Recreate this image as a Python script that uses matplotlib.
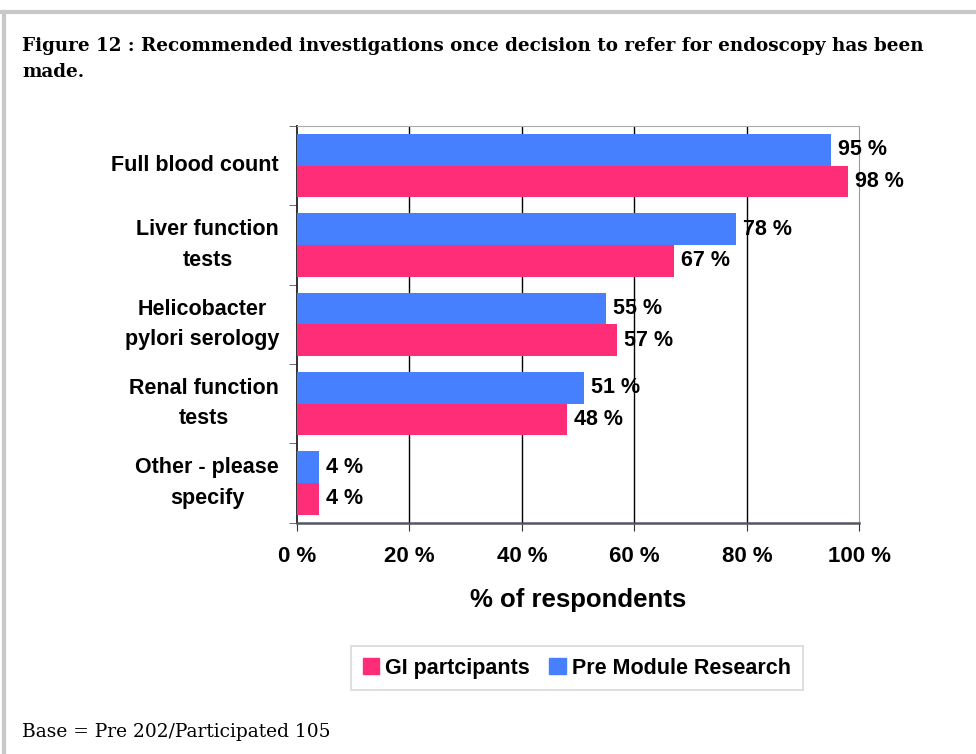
import matplotlib
matplotlib.use('Agg')
from matplotlib import pyplot as plt
from matplotlib.lines import Line2D
from matplotlib.patches import Patch
import numpy as np

categories = ['Full blood count', 'Liver function\ntests', 'Helicobacter\npylori serology',
              'Renal function\ntests', 'Other - please\nspecify']
pre_module = [95, 78, 55, 51, 4]
gi_participants = [98, 67, 57, 48, 4]
xticks = [0, 20, 40, 60, 80, 100]

BLUE = '#4680FF'
PINK = '#FF2D78'
SANS = 'Liberation Sans'

fig = plt.figure(figsize=(9.76, 7.54), dpi=100)
ax = fig.add_axes([0.3043, 0.3068, 0.5761, 0.5261])

y = np.arange(len(categories))
h = 0.4
ax.barh(y - h / 2, pre_module, height=h, color=BLUE, label='Pre Module Research', zorder=3)
ax.barh(y + h / 2, gi_participants, height=h, color=PINK, label='GI partcipants', zorder=3)

for yi, v in zip(y - h / 2, pre_module):
    ax.annotate('%d %%' % v, (v, yi), xytext=(5, 0), textcoords='offset points',
                va='center', ha='left', fontsize=15.5, fontweight='bold',
                family=SANS, zorder=4)
for yi, v in zip(y + h / 2, gi_participants):
    ax.annotate('%d %%' % v, (v, yi), xytext=(5, 0), textcoords='offset points',
                va='center', ha='left', fontsize=15.5, fontweight='bold',
                family=SANS, zorder=4)

ax.set_xlim(0, 100)
ax.set_ylim(len(categories) - 0.5, -0.5)

for gx in xticks[1:-1]:
    ax.axvline(gx, color='black', linewidth=1, zorder=1)

ax.set_xticks(xticks)
ax.set_xticklabels(['%d %%' % t for t in xticks], fontsize=16, fontweight='bold', family=SANS)
ax.tick_params(axis='x', direction='out', length=6, pad=11, color='#333333')

ax.set_yticks(y)
ax.set_yticklabels(categories, fontsize=15.5, fontweight='bold', family=SANS,
                   multialignment='center', linespacing=1.6)
for lbl in ax.get_yticklabels():
    lbl.set_va('center')
ax.tick_params(axis='y', which='major', length=0, pad=13)
ax.set_yticks(np.arange(-0.5, len(categories), 1), minor=True)
ax.tick_params(axis='y', which='minor', length=6, direction='out', color='#555555')

ax.spines['top'].set_color('#aaaaaa')
ax.spines['right'].set_color('#999999')
ax.spines['left'].set_color('#222222')
ax.spines['left'].set_linewidth(1.3)
ax.spines['bottom'].set_color('#555566')
ax.spines['bottom'].set_linewidth(1.8)

ax.set_xlabel('% of respondents', fontsize=18.5, fontweight='bold', family=SANS, labelpad=15)

handles = [Patch(color=PINK, label='GI partcipants'), Patch(color=BLUE, label='Pre Module Research')]
leg = fig.legend(handles=handles, loc='center', bbox_to_anchor=(0.591, 0.114), ncol=2,
                 prop={'family': SANS, 'weight': 'bold', 'size': 15.5},
                 frameon=True, fancybox=False, handlelength=0.75, handleheight=0.75,
                 handletextpad=0.3, columnspacing=0.9, borderpad=0.55, borderaxespad=0)
leg.get_frame().set_edgecolor('#d0d0d0')
leg.get_frame().set_linewidth(1.2)

fig.text(0.0225, 0.951, 'Figure 12 : Recommended investigations once decision to refer for endoscopy has been\nmade.',
         fontsize=13.2, fontweight='bold', family='DejaVu Serif', va='top', ha='left',
         linespacing=1.55)
fig.text(0.0225, 0.029, 'Base = Pre 202/Participated 105', fontsize=13.4,
         family='DejaVu Serif', va='center', ha='left')

# page border
fig.add_artist(Line2D([0, 1], [1 - 12 / 754, 1 - 12 / 754], color='#c8c8c8', linewidth=3,
                      transform=fig.transFigure))
fig.add_artist(Line2D([4 / 976, 4 / 976], [0, 1 - 12 / 754], color='#c8c8c8', linewidth=3,
                      transform=fig.transFigure))

fig.savefig('out.png', dpi=100)
